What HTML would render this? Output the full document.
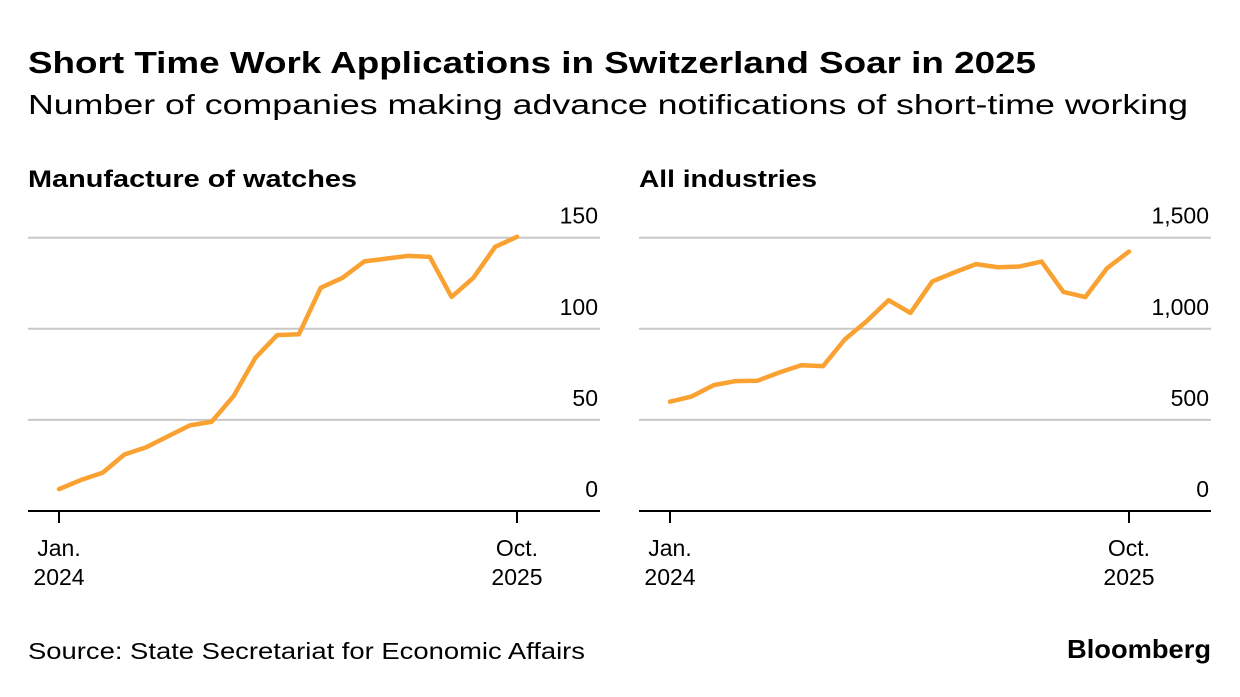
<!DOCTYPE html>
<html><head><meta charset="utf-8"><style>
body{margin:0;background:#fff;font-family:"Liberation Sans",sans-serif;color:#000}
svg text{font-family:"Liberation Sans",sans-serif}
</style></head><body>
<svg width="1240" height="692" viewBox="0 0 1240 692">
<text x="28" y="73" font-size="31" font-weight="bold" textLength="1008" lengthAdjust="spacingAndGlyphs">Short Time Work Applications in Switzerland Soar in 2025</text>
<text x="28" y="114" font-size="28" textLength="1160" lengthAdjust="spacingAndGlyphs">Number of companies making advance notifications of short-time working</text>
<text x="28" y="187" font-size="24" font-weight="bold" textLength="329" lengthAdjust="spacingAndGlyphs">Manufacture of watches</text>
<text x="639" y="187" font-size="24" font-weight="bold" textLength="178" lengthAdjust="spacingAndGlyphs">All industries</text>
<g id="left"></g>
<g id="right"></g>
<text x="28" y="659" font-size="23" textLength="557" lengthAdjust="spacingAndGlyphs">Source: State Secretariat for Economic Affairs</text>
<text x="1211" y="658" font-size="26" font-weight="bold" text-anchor="end" textLength="144" lengthAdjust="spacingAndGlyphs">Bloomberg</text>
</svg>
<script>
const watches = [12,17,21,31,35,41,47,49,63,84,96.5,97,122.5,128,137,138.5,140,139.5,117.5,128,145,150.5];
const allInd = [600,629,691,713,715,760,800,795,942,1042,1157,1087,1260,1309,1355,1338,1342,1369,1202,1174,1333,1424];
const watchTicks = [0,50,100,150];
const allTicks = [0,500,1000,1500];
const watchTickLabels = ["0","50","100","150"];
const allTickLabels = ["0","500","1,000","1,500"];
const xLabels = [["Jan.","2024"],["Oct.","2025"]];
const NS="http://www.w3.org/2000/svg";
function mk(t,a,p){const e=document.createElementNS(NS,t);for(const k in a)e.setAttribute(k,a[k]);p.appendChild(e);return e;}
function panel(g,x0,x1,xa,xb,data,ticks,labels,max,prefix){
  const yb=511,yt=237.7;
  const ys=v=>yb-(v/max)*(yb-yt);
  const xs=i=>xa+i*(xb-xa)/(data.length-1);
  ticks.forEach((t,i)=>{
    if(t>0){const l=mk('line',{x1:x0,x2:x1,y1:ys(t),y2:ys(t),stroke:'#c8c8c8','stroke-width':2},g);
    
    }
    const tx=mk('text',{x:x1-2,y:ys(t)-14,'font-size':23,'text-anchor':'end'},g);
    tx.textContent=labels[i];
    
    
  });
  const ax=mk('line',{x1:x0,x2:x1,y1:yb,y2:yb,stroke:'#000','stroke-width':2},g);
  
  
  [0,data.length-1].forEach((i,k)=>{
    const tk=mk('line',{x1:xs(i),x2:xs(i),y1:yb,y2:yb+12,stroke:'#000','stroke-width':2},g);
    
    
    xLabels[k].forEach((s,j)=>{
      const t=mk('text',{x:xs(i),y:556+j*29,'font-size':23,'text-anchor':'middle'},g);
      t.textContent=s;
      
      
    });
  });
  const p=mk('polyline',{points:data.map((v,i)=>xs(i)+','+ys(v)).join(' '),fill:'none',stroke:'#f9a131','stroke-width':4.5,'stroke-linejoin':'round','stroke-linecap':'round'},g);
  
  
}
panel(document.getElementById('left'),28,600,59,517,watches,watchTicks,watchTickLabels,150,'watches');
panel(document.getElementById('right'),639,1211,670,1129,allInd,allTicks,allTickLabels,1500,'all-industries');
</script>
</body></html>
